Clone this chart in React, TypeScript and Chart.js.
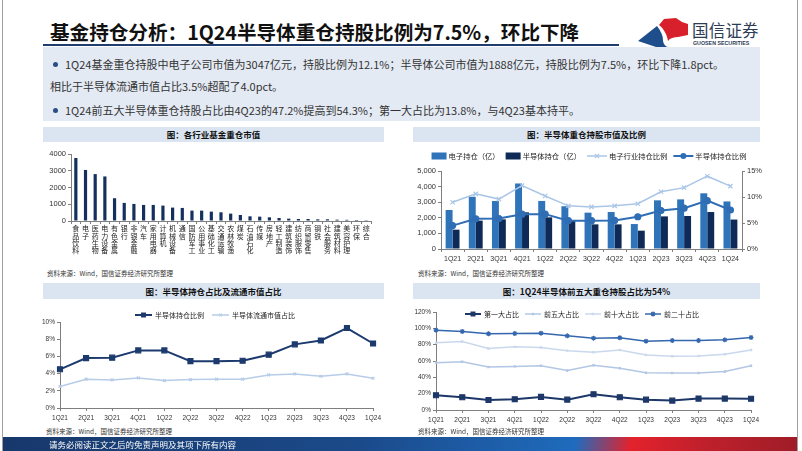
import React, { useEffect, useRef } from 'react';
import { Chart, registerables } from 'chart.js';
Chart.register(...registerables);

const CJK = '"Noto Sans CJK SC", "Noto Sans", sans-serif';
const LAT = '"Liberation Sans", Arial, sans-serif';

// ---- Data ----
const industries = ['食品饮料', '电子', '医药生物', '电力设备', '有色金属', '银行', '非银金融', '汽车', '家用电器', '计算机', '机械设备', '通信', '国防军工', '公用事业', '基础化工', '交通运输', '农林牧渔', '煤炭', '石油石化', '传媒', '房地产', '轻工制造', '建筑装饰', '纺织服饰', '商贸零售', '钢铁', '社会服务', '建筑材料', '美容护理', '环保', '综合'];
const industryValues = [3760, 3047, 2800, 2660, 1360, 1080, 1020, 960, 960, 920, 800, 780, 620, 620, 560, 520, 440, 360, 280, 260, 220, 180, 140, 120, 120, 100, 100, 80, 70, 60, 10];

const quarters = ['1Q21', '2Q21', '3Q21', '4Q21', '1Q22', '2Q22', '3Q22', '4Q22', '1Q23', '2Q23', '3Q23', '4Q23', '1Q24'];
const elecHold = [2500, 3350, 3080, 4200, 3080, 2740, 2330, 2370, 1600, 3120, 3180, 3570, 3047];
const semiHold = [1240, 1820, 1900, 2350, 2030, 1800, 1580, 1580, 1175, 2090, 2115, 2370, 1888];
const elecRatio = [9.0, 10.6, 9.6, 12.2, 10.2, 8.3, 8.1, 8.3, 8.7, 11.0, 11.8, 14.0, 12.1];
const semiRatio = [4.5, 5.8, 5.85, 6.7, 6.7, 5.45, 5.45, 5.5, 6.2, 7.4, 7.85, 9.3, 7.5];
const floatRatio = [2.5, 3.35, 3.27, 3.5, 3.19, 3.3, 3.35, 3.35, 3.85, 3.96, 3.69, 3.96, 3.46];

const top1 = [18.0, 15.6, 12.3, 13.2, 16.0, 12.7, 19.3, 15.6, 12.7, 11.5, 14.0, 14.0, 13.8];
const top5 = [58.0, 59.2, 52.6, 53.4, 54.3, 48.5, 54.7, 51.0, 45.6, 45.2, 45.2, 47.2, 54.3];
const top10 = [82.2, 83.8, 75.2, 77.3, 76.4, 72.7, 70.7, 73.6, 67.4, 65.8, 66.2, 68.2, 73.6];
const top20 = [97.8, 96.2, 93.3, 93.7, 94.1, 90.8, 88.0, 88.4, 84.3, 85.1, 85.1, 85.9, 88.8];

// ---- helpers ----
function drawMarker(ctx: CanvasRenderingContext2D, style: string, x: number, y: number, r: number, color: string, lw: number) {
  ctx.save();
  ctx.fillStyle = color;
  ctx.strokeStyle = color;
  ctx.lineWidth = lw;
  ctx.beginPath();
  if (style === 'circle') {
    ctx.arc(x, y, r, 0, Math.PI * 2);
    ctx.fill();
  } else if (style === 'rect') {
    const s = r / Math.SQRT2;
    ctx.rect(x - s, y - s, 2 * s, 2 * s);
    ctx.fill();
  } else {
    const d = r * Math.cos(Math.PI / 4);
    if (style !== 'cross') {
      ctx.moveTo(x - d, y - d); ctx.lineTo(x + d, y + d);
      ctx.moveTo(x + d, y - d); ctx.lineTo(x - d, y + d);
    }
    if (style !== 'crossRot') {
      ctx.moveTo(x, y - r); ctx.lineTo(x, y + r);
      ctx.moveTo(x - r, y); ctx.lineTo(x + r, y);
    }
    ctx.stroke();
  }
  ctx.restore();
}

const customLegend = {
  id: 'customLegend',
  afterDraw(chart: any, _args: any, opts: any) {
    if (!opts || !opts.show) return;
    const ctx: CanvasRenderingContext2D = chart.ctx;
    ctx.save();
    ctx.font = `${opts.fontSize}px ${CJK}`;
    ctx.textBaseline = 'middle';
    ctx.textAlign = 'left';
    const items = chart.data.datasets.map((d: any) => {
      const isBar = (d.type || chart.config.type) === 'bar';
      return {
        text: d.label,
        isBar,
        color: isBar ? d.backgroundColor : d.borderColor,
        style: d.pointStyle || 'circle',
        r: d.pointRadius || 0,
        lw: d.borderWidth || 1,
      };
    });
    const iconW = (it: any) => (it.isBar ? opts.boxW : opts.lineW);
    const widths = items.map((it: any) => iconW(it) + opts.iconGap + ctx.measureText(it.text).width);
    const total = widths.reduce((a: number, b: number) => a + b, 0) + opts.gap * (items.length - 1);
    let x = opts.centerX - total / 2;
    const y = opts.y;
    items.forEach((it: any, i: number) => {
      const w = iconW(it);
      if (it.isBar) {
        ctx.fillStyle = it.color;
        ctx.fillRect(x, y - opts.boxH / 2, w, opts.boxH);
      } else {
        ctx.strokeStyle = it.color;
        ctx.lineWidth = it.lw;
        ctx.beginPath();
        ctx.moveTo(x, y);
        ctx.lineTo(x + w, y);
        ctx.stroke();
        if (it.r > 0) drawMarker(ctx, it.style, x + w / 2, y, it.r, it.color, 1.2);
      }
      ctx.fillStyle = opts.color;
      ctx.fillText(it.text, x + w + opts.iconGap, y + 0.5);
      x += widths[i] + opts.gap;
    });
    ctx.restore();
  },
};

const gridOpt = { drawOnChartArea: false, drawTicks: true, tickLength: 3, color: '#7f7f7f' };
const borderOpt = { display: true, color: '#7f7f7f', width: 1 };

function xQuarterAxis(h: number, size: number) {
  return {
    grid: gridOpt,
    border: borderOpt,
    ticks: { autoSkip: false, maxRotation: 0, minRotation: 0, padding: 3, color: '#333', font: { size, family: LAT } },
    afterFit(s: any) { s.height = h; },
  };
}

function lineDs(label: string, data: number[], color: string, width: number, style: string, r: number, extra: any = {}) {
  return {
    type: 'line',
    label,
    data,
    borderColor: color,
    backgroundColor: color,
    borderWidth: width,
    pointStyle: style,
    pointRadius: r,
    pointBorderColor: color,
    pointBackgroundColor: color,
    pointBorderWidth: 1.2,
    tension: 0,
    fill: false,
    ...extra,
  };
}

const abs = (l: number, t: number, w: number, h: number, extra: any = {}) => ({
  position: 'absolute' as const, left: l, top: t, width: w, height: h, ...extra,
});

function TitleBar({ l, t, w, h, text }: { l: number; t: number; w: number; h: number; text: string }) {
  return (
    <div style={abs(l, t, w, h, { background: '#dbe5f1', textAlign: 'center', lineHeight: `${h}px`, fontSize: 8.5, fontWeight: 700, color: '#111', whiteSpace: 'nowrap' })}>
      {text}
    </div>
  );
}

function Source({ l, t }: { l: number; t: number }) {
  return (
    <div style={abs(l, t, 250, 10, { fontSize: 6.5, lineHeight: '10px', color: '#333', whiteSpace: 'nowrap' })}>
      资料来源：Wind，国信证券经济研究所整理
    </div>
  );
}

export default function App() {
  const r1 = useRef<HTMLCanvasElement>(null);
  const r2 = useRef<HTMLCanvasElement>(null);
  const r3 = useRef<HTMLCanvasElement>(null);
  const r4 = useRef<HTMLCanvasElement>(null);

  useEffect(() => {
    const charts: Chart[] = [];

    charts.push(new Chart(r1.current!, {
      type: 'bar',
      data: {
        labels: industries.map((s) => s.split('')),
        datasets: [{ label: '各行业基金重仓市值', data: industryValues, backgroundColor: '#15305f', barPercentage: 0.33, categoryPercentage: 1 }],
      },
      options: {
        animation: false, responsive: false, maintainAspectRatio: false,
        layout: { padding: { top: 9, right: 13, left: 0, bottom: 0 } },
        plugins: { legend: { display: false }, tooltip: { enabled: false } },
        scales: {
          x: {
            grid: gridOpt, border: borderOpt,
            ticks: { autoSkip: false, maxRotation: 0, minRotation: 0, padding: 1, color: '#222', font: { size: 7, family: CJK, lineHeight: 1.05 } },
            afterFit(s: any) { s.height = 41; },
          },
          y: {
            min: 0, max: 4000,
            grid: gridOpt, border: borderOpt,
            ticks: { stepSize: 500, padding: 2, color: '#333', font: { size: 7.5, family: LAT }, callback: (v: any) => String(v) },
            afterFit(s: any) { s.width = 51; },
          },
        },
      } as any,
    }));

    charts.push(new Chart(r2.current!, {
      type: 'bar',
      data: {
        labels: quarters,
        datasets: [
          { type: 'bar', label: '电子持仓（亿）', data: elecHold, backgroundColor: '#2f73b9', yAxisID: 'y', order: 2, barPercentage: 1, categoryPercentage: 0.6 },
          { type: 'bar', label: '半导体持仓（亿）', data: semiHold, backgroundColor: '#0f2a56', yAxisID: 'y', order: 2, barPercentage: 1, categoryPercentage: 0.6 },
          lineDs('电子行业持仓比例', elecRatio, '#aac6e7', 1.5, 'crossRot', 3, { yAxisID: 'y1', order: 1 }),
          lineDs('半导体持仓比例', semiRatio, '#2f6db4', 2, 'circle', 3, { yAxisID: 'y1', order: 0 }),
        ],
      },
      options: {
        animation: false, responsive: false, maintainAspectRatio: false,
        layout: { padding: { top: 26, right: 0, left: 0, bottom: 0 } },
        plugins: {
          legend: { display: false }, tooltip: { enabled: false },
          customLegend: { show: true, centerX: 189, y: 11, fontSize: 7.3, gap: 6, iconGap: 2, boxW: 15, boxH: 7, lineW: 20, color: '#222' },
        },
        scales: {
          x: xQuarterAxis(19, 7),
          y: {
            position: 'left', min: 0, max: 5000,
            grid: gridOpt, border: borderOpt,
            ticks: { stepSize: 1000, padding: 2, color: '#333', font: { size: 7.5, family: LAT }, callback: (v: any) => Number(v).toLocaleString('en-US') },
            afterFit(s: any) { s.width = 41; },
          },
          y1: {
            position: 'right', min: 0, max: 15,
            grid: gridOpt, border: borderOpt,
            ticks: { stepSize: 5, padding: 2, color: '#333', font: { size: 7.5, family: LAT }, callback: (v: any) => v + '%' },
            afterFit(s: any) { s.width = 20; },
          },
        },
      } as any,
      plugins: [customLegend as any],
    }));

    charts.push(new Chart(r3.current!, {
      type: 'line',
      data: {
        labels: quarters,
        datasets: [
          lineDs('半导体持仓比例', semiRatio, '#1c3a6e', 2, 'rect', 3.5),
          lineDs('半导体流通市值占比', floatRatio, '#b7cce7', 1.5, 'crossRot', 2),
        ],
      },
      options: {
        animation: false, responsive: false, maintainAspectRatio: false,
        layout: { padding: { top: 20, right: 5, left: 0, bottom: 0 } },
        plugins: {
          legend: { display: false }, tooltip: { enabled: false },
          customLegend: { show: true, centerX: 195, y: 13, fontSize: 7, gap: 8, iconGap: 3, boxW: 15, boxH: 7, lineW: 17, color: '#222' },
        },
        scales: {
          x: xQuarterAxis(18, 6.5),
          y: {
            min: 0, max: 10,
            grid: gridOpt, border: borderOpt,
            ticks: { stepSize: 2, padding: 2, color: '#333', font: { size: 6.5, family: LAT }, callback: (v: any) => v + '%' },
            afterFit(s: any) { s.width = 40; },
          },
        },
      } as any,
      plugins: [customLegend as any],
    }));

    charts.push(new Chart(r4.current!, {
      type: 'line',
      data: {
        labels: quarters,
        datasets: [
          lineDs('第一大占比', top1, '#1d3768', 2, 'rect', 3.5),
          lineDs('前五大占比', top5, '#b2c7e4', 1.5, 'crossRot', 1.5),
          lineDs('前十大占比', top10, '#cad8ee', 1.5, 'crossRot', 1.5),
          lineDs('前二十占比', top20, '#3467ad', 1.5, 'star', 2.5),
        ],
      },
      options: {
        animation: false, responsive: false, maintainAspectRatio: false,
        layout: { padding: { top: 10, right: 2, left: 0, bottom: 0 } },
        plugins: {
          legend: { display: false }, tooltip: { enabled: false },
          customLegend: { show: true, centerX: 182, y: 12, fontSize: 7, gap: 6, iconGap: 3, boxW: 15, boxH: 7, lineW: 16, color: '#222' },
        },
        scales: {
          x: xQuarterAxis(18, 6.5),
          y: {
            min: 0, max: 120,
            grid: gridOpt, border: borderOpt,
            ticks: { stepSize: 20, padding: 2, color: '#333', font: { size: 6.5, family: LAT }, callback: (v: any) => v + '%' },
            afterFit(s: any) { s.width = 36; },
          },
        },
      } as any,
      plugins: [customLegend as any],
    }));

    return () => charts.forEach((c) => c.destroy());
  }, []);

  const bullet = (l: number, t: number) => (
    <div style={abs(l, t, 5, 5, { borderRadius: '50%', background: '#2b4c85' })} />
  );
  const textLine = (l: number, t: number, s: string) => (
    <div style={abs(l, t, 720, 14, { fontSize: 11, lineHeight: '14px', color: '#333', whiteSpace: 'nowrap' })}>{s}</div>
  );

  return (
    <div style={{ position: 'fixed', left: 0, top: 0, width: 802, height: 451, background: '#fff', overflow: 'hidden', fontFamily: CJK }}>
      {/* slide frame */}
      <div style={abs(2, 0, 1, 451, { background: '#a0a0a0' })} />
      <div style={abs(797, 0, 1, 451, { background: '#a0a0a0' })} />

      {/* header */}
      <div style={abs(50, 19, 560, 25, { fontSize: 19.6, lineHeight: '25px', fontWeight: 700, color: '#111', whiteSpace: 'nowrap' })}>
        基金持仓分析：1Q24半导体重仓持股比例为7.5%，环比下降
      </div>
      <div style={abs(43, 44, 576, 2, { background: '#1f3d6d' })} />
      <svg style={abs(636, 16, 54, 34)} viewBox="0 0 54 34">
        <path d="M2,25 L21,10 C25,15 27,20 27,24 C27,28 30,31 32,31 L20,31 C14,29 8,27 2,25 Z" fill="#1f4e8c" />
        <path d="M23,9 L28,3 L40,2 L46,6 L52,8 L52,19 L42,21 C38,21 34,22 32,25 C31,19 28,13 23,9 Z" fill="#d7202c" />
      </svg>
      <div style={abs(692, 20, 70, 20, { fontSize: 16.5, lineHeight: '20px', color: '#2d3b55', whiteSpace: 'nowrap', letterSpacing: 0.2 })}>国信证券</div>
      <div style={abs(693, 40, 70, 7, { fontSize: 5.3, lineHeight: '7px', fontWeight: 700, color: '#2d3b55', whiteSpace: 'nowrap', fontFamily: LAT })}>GUOSEN SECURITIES</div>

      {/* text box */}
      <div style={abs(43, 47, 717, 74, { background: '#e3eaf4' })} />
      {bullet(53, 62)}
      {textLine(65, 57, '1Q24基金重仓持股中电子公司市值为3047亿元，持股比例为12.1%；半导体公司市值为1888亿元，持股比例为7.5%，环比下降1.8pct。')}
      {textLine(50, 79, '相比于半导体流通市值占比3.5%超配了4.0pct。')}
      {bullet(53, 108)}
      {textLine(65, 103, '1Q24前五大半导体重仓持股占比由4Q23的47.2%提高到54.3%；第一大占比为13.8%，与4Q23基本持平。')}

      {/* chart panels */}
      <TitleBar l={43} t={127} w={341} h={15} text="图：各行业基金重仓市值" />
      <TitleBar l={413} t={127} w={347} h={15} text="图：半导体重仓持股市值及比例" />
      <TitleBar l={43} t={283} w={341} h={16} text="图：半导体持仓占比及流通市值占比" />
      <TitleBar l={413} t={283} w={347} h={16} text="图：1Q24半导体前五大重仓持股占比为54%" />

      <canvas ref={r1} width={364} height={117} style={abs(20, 145, 364, 117)} />
      <canvas ref={r2} width={362} height={123} style={abs(400, 145, 362, 123)} />
      <canvas ref={r3} width={364} height={124} style={abs(20, 302, 364, 124)} />
      <canvas ref={r4} width={362} height={126} style={abs(400, 302, 362, 126)} />

      <Source l={47} t={268} />
      <Source l={418} t={268} />
      <Source l={46} t={426} />
      <Source l={418} t={426} />

      {/* footer */}
      <div style={abs(3, 437, 794, 14, { background: 'linear-gradient(100deg, #17386b 0%, #1b4a8a 45%, #1f6bbd 72%, #e3222c 79%, #c0202c 88%, #9e1d27 100%)' })} />
      <div style={abs(49, 437, 400, 14, { fontSize: 8.5, lineHeight: '14px', color: '#fff', whiteSpace: 'nowrap' })}>请务必阅读正文之后的免责声明及其项下所有内容</div>
    </div>
  );
}
